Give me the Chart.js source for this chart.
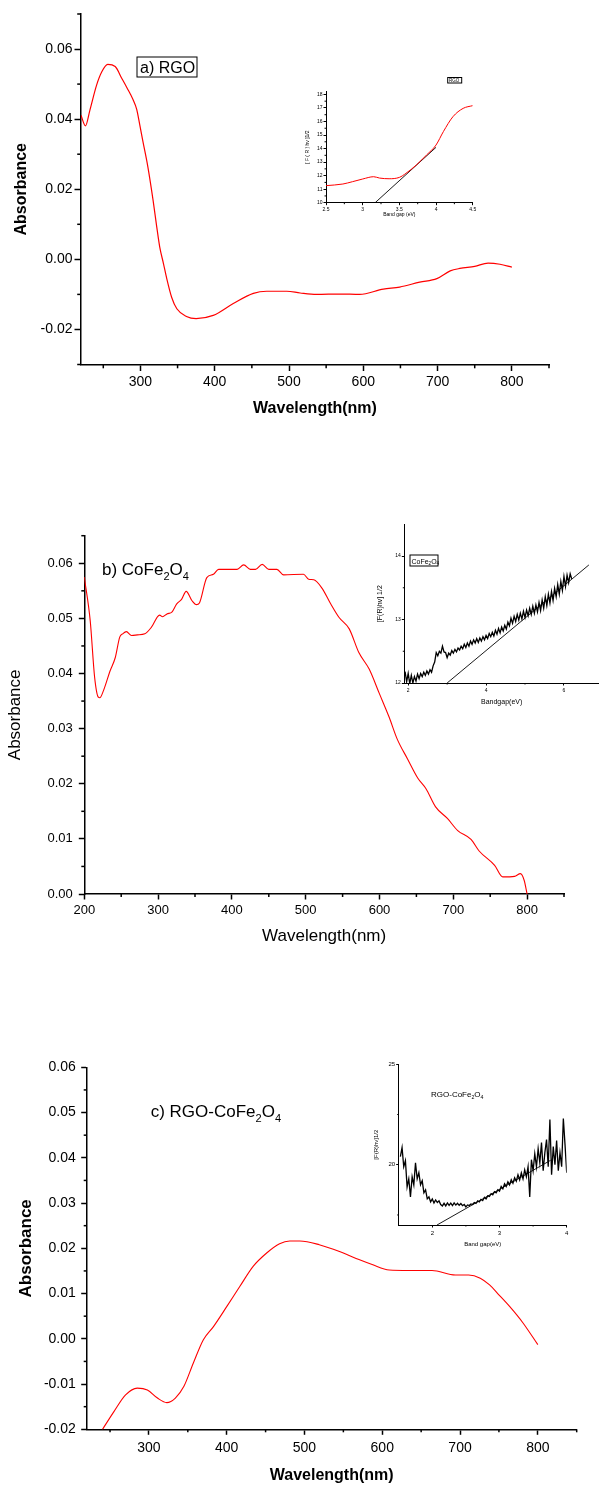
<!DOCTYPE html>
<html><head><meta charset="utf-8">
<script src="https://cdn.jsdelivr.net/npm/chart.js@4.4.1/dist/chart.umd.min.js"></script>
<style>
html,body{margin:0;padding:0;background:#fff;}
body{position:relative;width:599px;height:1486px;overflow:hidden;}
canvas{position:absolute;}
</style>
</head><body>
<script>
// ---------------- DATA ----------------
// Panel a) RGO : absorbance vs wavelength
const wavelengthA = [220,226,232,241,248,256,266,275,282,290,295,299,303,310,317,322,326,331,335,342,349,362,375,398,425,452,470,497,515,537,569,595,627,649,676,699,717,730,750,768,784,800];
const absorbanceA = [0.0411,0.0381,0.0426,0.0497,0.0535,0.0556,0.0550,0.0516,0.0489,0.0456,0.0428,0.0385,0.0340,0.0264,0.0169,0.0092,0.0035,-0.0012,-0.0051,-0.0108,-0.0141,-0.0163,-0.0169,-0.0160,-0.0126,-0.0097,-0.0091,-0.0091,-0.0096,-0.0100,-0.0099,-0.0100,-0.0085,-0.0079,-0.0065,-0.0055,-0.0033,-0.0026,-0.0020,-0.0011,-0.0014,-0.0022];
const xTicksA = [300,400,500,600,700,800];
const xTickLabelsA = ['300','400','500','600','700','800'];
const xMinorA = [250,350,450,550,650,750,850];
const yTicksA = [-0.02,0.00,0.02,0.04,0.06];
const yTickLabelsA = ['-0.02','0.00','0.02','0.04','0.06'];
const yMinorA = [-0.03,-0.01,0.01,0.03,0.05,0.07];

// Inset a) band gap of RGO
const insetA_eV = [2.5,2.73,2.86,3.0,3.15,3.23,3.36,3.5,3.59,3.73,3.87,4.0,4.1,4.23,4.37,4.5];
const insetA_F  = [11.26,11.38,11.55,11.75,11.92,11.82,11.77,11.87,12.17,12.78,13.52,14.26,15.25,16.35,16.97,17.17];
const insetA_fitEV = [3.17,4.0];
const insetA_fitF  = [10.0,14.09];
const insetA_xTicks = [2.5,3,3.5,4,4.5];
const insetA_xLabels = ['2.5','3','3.5','4','4.5'];
const insetA_yTicks = [10,11,12,13,14,15,16,17,18];
const insetA_yLabels = ['10','11','12','13','14','15','16','17','18'];

// Panel b) CoFe2O4
const wavelengthB = [200,208,214,219,221,226,235,242,248,252,257,264,272,282,291,302,306,312,319,325,332,338,346,352,356,366,375,382,407,416,425,432,441,450,461,470,497,504,511,522,534,545,559,572,586,600,613,624,638,652,663,676,692,706,724,735,756,767,783,791,796,800];
const absorbanceB = [0.0575,0.0496,0.0393,0.0357,0.0356,0.0369,0.0405,0.0429,0.0466,0.0472,0.0476,0.0469,0.0470,0.0472,0.0484,0.0506,0.0503,0.0508,0.0512,0.0526,0.0535,0.0549,0.0532,0.0525,0.0528,0.0574,0.0580,0.0589,0.0589,0.0597,0.0589,0.0589,0.0598,0.0589,0.0589,0.0579,0.0580,0.0571,0.0570,0.0555,0.0526,0.0502,0.0481,0.0438,0.0408,0.0363,0.0321,0.0281,0.0245,0.0210,0.0191,0.0158,0.0137,0.0115,0.0099,0.0078,0.0052,0.0031,0.0032,0.0037,0.0025,0.0000];
const xTicksB = [200,300,400,500,600,700,800];
const xTickLabelsB = ['200','300','400','500','600','700','800'];
const xMinorB = [250,350,450,550,650,750,850];
const yTicksB = [0,0.01,0.02,0.03,0.04,0.05,0.06];
const yTickLabelsB = ['0.00','0.01','0.02','0.03','0.04','0.05','0.06'];
const yMinorB = [0.005,0.015,0.025,0.035,0.045,0.055,0.065];

// Inset b) band gap of CoFe2O4
const insetB_eV = [1.92,1.96,2.00,2.04,2.08,2.12,2.16,2.20,2.24,2.28,2.32,2.36,2.40,2.44,2.48,2.52,2.56,2.60,2.64,2.68,2.72,2.76,2.80,2.84,2.88,2.92,2.96,3.00,3.04,3.08,3.12,3.16,3.20,3.24,3.28,3.32,3.36,3.40,3.44,3.48,3.52,3.56,3.60,3.64,3.68,3.72,3.76,3.80,3.84,3.88,3.92,3.96,4.00,4.04,4.08,4.12,4.16,4.20,4.24,4.28,4.32,4.36,4.40,4.44,4.48,4.52,4.56,4.60,4.64,4.68,4.72,4.76,4.80,4.84,4.88,4.92,4.96,5.00,5.04,5.08,5.12,5.16,5.20,5.24,5.28,5.32,5.36,5.40,5.44,5.48,5.52,5.56,5.60,5.64,5.68,5.72,5.76,5.80,5.84,5.88,5.92,5.96,6.00,6.04,6.08,6.12,6.16,6.20];
const insetB_F = [12.18,12.02,12.15,11.99,12.12,12.00,12.10,12.03,12.14,12.07,
  12.15,12.10,12.17,12.12,12.19,12.14,12.21,12.17,12.27,12.33,
  12.48,12.43,12.50,12.47,12.58,12.49,12.48,12.40,12.47,12.44,
  12.51,12.47,12.53,12.49,12.55,12.52,12.58,12.54,12.61,12.56,
  12.63,12.58,12.66,12.61,12.68,12.63,12.70,12.64,12.71,12.66,
  12.73,12.68,12.75,12.70,12.78,12.73,12.80,12.74,12.83,12.77,
  12.86,12.79,12.88,12.82,12.91,12.85,12.96,12.90,13.02,12.94,
  13.05,12.97,13.08,12.99,13.10,13.01,13.13,13.03,13.15,13.06,
  13.18,13.08,13.21,13.10,13.23,13.12,13.27,13.14,13.31,13.18,
  13.36,13.22,13.40,13.26,13.44,13.30,13.49,13.36,13.55,13.40,
  13.60,13.46,13.68,13.52,13.70,13.58,13.72,13.64];
const insetB_fitEV = [3.0,6.64];
const insetB_fitF  = [12.0,13.86];
const insetB_xTicks = [2,4,6];
const insetB_xLabels = ['2','4','6'];
const insetB_yTicks = [12,13,14];
const insetB_yLabels = ['12','13','14'];

// Panel c) RGO-CoFe2O4
const wavelengthC = [240,255,270,285,298,311,323,334,345,357,370,383,400,417,434,451,468,481,494,519,545,570,587,609,634,664,694,711,726,738,749,764,781,800];
const absorbanceC = [-0.0201,-0.0161,-0.0124,-0.0109,-0.0113,-0.0131,-0.0141,-0.0131,-0.0105,-0.0054,-0.0002,0.0027,0.0071,0.0116,0.0160,0.0189,0.0210,0.0216,0.0216,0.0208,0.0193,0.0175,0.0164,0.0152,0.0151,0.0151,0.0141,0.0141,0.0134,0.0119,0.0099,0.0071,0.0035,-0.0013];
const xTicksC = [300,400,500,600,700,800];
const xTickLabelsC = ['300','400','500','600','700','800'];
const xMinorC = [250,350,450,550,650,750,850];
const yTicksC = [-0.02,-0.01,0,0.01,0.02,0.03,0.04,0.05,0.06];
const yTickLabelsC = ['-0.02','-0.01','0.00','0.01','0.02','0.03','0.04','0.05','0.06'];
const yMinorC = [-0.015,-0.005,0.005,0.015,0.025,0.035,0.045,0.055];

// Inset c) band gap of RGO-CoFe2O4
const insetC_eV = [1.525,1.55,1.575,1.6,1.625,1.65,1.675,1.7,1.725,1.75,1.775,1.8,1.825,1.85,1.875,1.9,1.925,1.95,1.975,2.0,2.025,2.05,2.075,2.1,2.125,2.15,2.175,2.2,2.225,2.25,2.275,2.3,2.325,2.35,2.375,2.4,2.425,2.45,2.475,2.5,2.525,2.55,2.575,2.6,2.625,2.65,2.675,2.7,2.725,2.75,2.775,2.8,2.825,2.85,2.875,2.9,2.925,2.95,2.975,3.0,3.025,3.05,3.075,3.1,3.125,3.15,3.175,3.2,3.225,3.25,3.275,3.3,3.325,3.35,3.375,3.4,3.425,3.45,3.475,3.5,3.525,3.55,3.575,3.6,3.625,3.65,3.675,3.7,3.725,3.75,3.775,3.8,3.825,3.85,3.875,3.9,3.925,3.95,3.975,4.0];
const insetC_F = [20.40,20.85,19.90,20.20,18.90,19.30,18.40,19.40,19.00,20.10,
  19.30,19.60,19.00,19.20,18.60,18.75,18.30,18.40,18.15,18.30,
  18.10,18.25,18.12,18.20,18.02,17.95,18.08,17.95,18.10,17.98,
  18.09,17.97,18.10,17.99,18.08,17.98,18.07,17.96,18.02,17.90,
  18.00,17.97,18.05,18.02,18.12,18.08,18.20,18.15,18.27,18.22,
  18.38,18.30,18.45,18.42,18.56,18.50,18.66,18.60,18.75,18.68,
  18.92,18.80,19.05,18.92,19.15,19.00,19.25,19.08,19.35,19.18,
  19.50,19.25,19.60,19.30,19.75,19.40,19.90,18.40,20.25,19.70,
  20.55,19.90,20.80,20.10,21.10,19.70,20.60,21.25,19.90,22.25,
  19.50,20.90,20.00,21.20,19.70,20.60,19.90,22.30,21.00,19.60];
const insetC_fitEV = [2.07,3.76];
const insetC_fitF  = [17.0,20.22];
const insetC_xTicks = [2,3,4];
const insetC_xLabels = ['2','3','4'];
const insetC_yTicks = [20,25];
const insetC_yLabels = ['20','25'];

// ---------------- RENDERING ----------------
const FONT = "'Liberation Sans', Arial, Helvetica, sans-serif";
Chart.defaults.font.family = FONT;
Chart.defaults.color = '#000';

const minorTicks = {
  id: 'minorTicks',
  afterDraw(chart, args, o) {
    if (!o || !o.len) return;
    const ctx = chart.ctx, xs = chart.scales.x, ys = chart.scales.y;
    ctx.save();
    ctx.strokeStyle = '#000';
    ctx.lineWidth = o.width || 1;
    (o.x || []).forEach(v => {
      const p = xs.getPixelForValue(v);
      ctx.beginPath(); ctx.moveTo(p, xs.top); ctx.lineTo(p, xs.top + o.len); ctx.stroke();
    });
    (o.y || []).forEach(v => {
      const p = ys.getPixelForValue(v);
      ctx.beginPath(); ctx.moveTo(ys.right, p); ctx.lineTo(ys.right - o.len, p); ctx.stroke();
    });
    ctx.restore();
  }
};

const richText = {
  id: 'richText',
  afterDraw(chart, args, o) {
    if (!o || !o.items) return;
    const ctx = chart.ctx;
    o.items.forEach(it => {
      ctx.save();
      ctx.fillStyle = it.color || '#000';
      ctx.textBaseline = 'alphabetic';
      ctx.textAlign = 'left';
      let x = it.x;
      it.parts.forEach(p => {
        if (typeof p === 'string') {
          ctx.font = `${it.weight || 'normal'} ${it.size}px ${FONT}`;
          ctx.fillText(p, x, it.y);
          x += ctx.measureText(p).width;
        } else {
          const s = it.size * 0.65;
          ctx.font = `${it.weight || 'normal'} ${s}px ${FONT}`;
          ctx.fillText(p.sub, x, it.y + it.size * 0.28);
          x += ctx.measureText(p.sub).width;
        }
      });
      if (it.box) {
        ctx.strokeStyle = '#000';
        ctx.lineWidth = it.box.lw || 1;
        ctx.strokeRect(it.box.x, it.box.y, it.box.w, it.box.h);
      }
      ctx.restore();
    });
  }
};
Chart.register(minorTicks, richText);

function makeChart(o) {
  const cv = document.createElement('canvas');
  cv.width = o.box.w; cv.height = o.box.h;
  cv.style.left = o.box.x + 'px'; cv.style.top = o.box.y + 'px';
  document.body.appendChild(cv);
  const yW = o.area.x0 - o.box.x;
  const xH = o.box.y + o.box.h - o.area.y1;
  const axis = (a, isX) => ({
    type: 'linear', min: a.min, max: a.max,
    border: {display: true, color: '#000', width: o.axisWidth},
    grid: {display: true, drawOnChartArea: false, drawTicks: true, tickLength: o.tickLen,
           color: '#000', tickColor: '#000', tickWidth: o.axisWidth},
    ticks: {autoSkip: false, maxRotation: 0, minRotation: 0, includeBounds: false,
            padding: a.pad, color: '#000', font: {family: FONT, size: o.tickSize},
            callback: (v, i) => a.labels[i]},
    afterBuildTicks: s => { s.ticks = a.major.map(v => ({value: v})); },
    afterFit: s => { if (isX) s.height = xH; else s.width = yW; },
    title: {display: true, text: a.title, color: '#000',
            font: {family: FONT, size: a.titleSize, weight: a.titleWeight || 'normal'},
            padding: isX ? {top: 0, bottom: a.titlePad} : {top: a.titlePad, bottom: 0}}
  });
  const items = (o.texts || []).map(t => ({
    x: t.px - o.box.x, y: t.py - o.box.y, size: t.size, weight: t.weight, parts: t.parts,
    box: t.box ? {x: t.box.px - o.box.x, y: t.box.py - o.box.y, w: t.box.w, h: t.box.h, lw: t.box.lw} : null
  }));
  new Chart(cv, {
    type: 'line',
    data: {
      datasets: o.series.map(s => ({
        data: s.xs.map((x, i) => ({x: x, y: s.ys[i]})),
        borderColor: s.color, borderWidth: s.width, pointRadius: 0, fill: false,
        tension: s.smooth ? 0.4 : 0,
        cubicInterpolationMode: s.smooth ? 'monotone' : 'default'
      }))
    },
    options: {
      responsive: false, animation: false, devicePixelRatio: 1, events: [],
      layout: {autoPadding: false, padding: {left: 0, bottom: 0,
        top: o.area.y0 - o.box.y, right: o.box.x + o.box.w - o.area.x1}},
      plugins: {
        legend: {display: false}, tooltip: {enabled: false},
        minorTicks: {x: o.x.minor, y: o.y.minor, len: o.minorLen, width: o.axisWidth},
        richText: {items: items}
      },
      scales: {x: axis(o.x, true), y: axis(o.y, false)}
    }
  });
}

const RED = '#ff0000';

// Panel a
makeChart({
  box: {x: 0, y: 0, w: 599, h: 430},
  area: {x0: 81, y0: 14, x1: 549, y1: 364.5},
  axisWidth: 1.5, tickLen: 6.5, minorLen: 3.8, tickSize: 14,
  x: {min: 220, max: 850, major: xTicksA, labels: xTickLabelsA, minor: xMinorA, pad: 3,
      title: 'Wavelength(nm)', titleSize: 16, titleWeight: 'bold', titlePad: 12},
  y: {min: -0.03, max: 0.07, major: yTicksA, labels: yTickLabelsA, minor: yMinorA, pad: 2,
      title: 'Absorbance', titleSize: 16, titleWeight: 'bold', titlePad: 12.4},
  series: [{xs: wavelengthA, ys: absorbanceA, color: RED, width: 1.2, smooth: true}],
  texts: [{px: 140, py: 73, size: 16, parts: ['a) RGO'], box: {px: 137, py: 57, w: 60, h: 20}}]
});

// Inset a
makeChart({
  box: {x: 296, y: 70, w: 194, h: 152},
  area: {x0: 326, y0: 91.7, x1: 472.7, y1: 202.7},
  axisWidth: 1, tickLen: 2.5, minorLen: 1.5, tickSize: 5,
  x: {min: 2.5, max: 4.5, major: insetA_xTicks, labels: insetA_xLabels, minor: [2.75,3.25,3.75,4.25], pad: 1,
      title: 'Band gap (eV)', titleSize: 5, titlePad: 4.5},
  y: {min: 10, max: 18.2, major: insetA_yTicks, labels: insetA_yLabels, minor: [10.5,11.5,12.5,13.5,14.5,15.5,16.5,17.5], pad: 1,
      title: '[ F ( R ) hv ]1/2', titleSize: 5, titlePad: 9},
  series: [
    {xs: insetA_eV, ys: insetA_F, color: RED, width: 1, smooth: true},
    {xs: insetA_fitEV, ys: insetA_fitF, color: '#000', width: 0.9}
  ],
  texts: [{px: 449, py: 82.2, size: 4.5, parts: ['RGO'], box: {px: 447.7, py: 77.5, w: 14, h: 5.5}}]
});

// Panel b
makeChart({
  box: {x: 0, y: 480, w: 599, h: 480},
  area: {x0: 84.3, y0: 535.7, x1: 564, y1: 894},
  axisWidth: 1.5, tickLen: 5.5, minorLen: 3, tickSize: 13,
  x: {min: 200, max: 850, major: xTicksB, labels: xTickLabelsB, minor: xMinorB, pad: 3,
      title: 'Wavelength(nm)', titleSize: 17, titlePad: 13.8},
  y: {min: 0, max: 0.065, major: yTicksB, labels: yTickLabelsB, minor: yMinorB, pad: 6,
      title: 'Absorbance', titleSize: 17, titlePad: 4.8},
  series: [{xs: wavelengthB, ys: absorbanceB, color: RED, width: 1.1, smooth: true}],
  texts: [{px: 102, py: 575, size: 17, parts: ['b) CoFe', {sub: '2'}, 'O', {sub: '4'}]}]
});

// Inset b
makeChart({
  box: {x: 370, y: 505, w: 229, h: 210},
  area: {x0: 404.3, y0: 524.3, x1: 599, y1: 683},
  axisWidth: 1, tickLen: 2.5, minorLen: 1.5, tickSize: 5,
  x: {min: 1.9, max: 6.9, major: insetB_xTicks, labels: insetB_xLabels, minor: [3,5], pad: 2,
      title: 'Bandgap(eV)', titleSize: 7, titlePad: 8.3},
  y: {min: 12, max: 14.5, major: insetB_yTicks, labels: insetB_yLabels, minor: [12.5,13.5], pad: 1,
      title: '[F(R)hv] 1/2', titleSize: 7, titlePad: 5.8},
  series: [
    {xs: insetB_eV, ys: insetB_F, color: '#000', width: 1.3},
    {xs: insetB_fitEV, ys: insetB_fitF, color: '#000', width: 0.9}
  ],
  texts: [{px: 411.5, py: 563.5, size: 7, parts: ['CoFe', {sub: '2'}, 'O', {sub: '4'}], box: {px: 410, py: 555, w: 28, h: 11}}]
});

// Panel c
makeChart({
  box: {x: 0, y: 1040, w: 599, h: 446},
  area: {x0: 86.7, y0: 1067.3, x1: 576.7, y1: 1429.3},
  axisWidth: 1.5, tickLen: 5.5, minorLen: 3, tickSize: 14,
  x: {min: 220, max: 850, major: xTicksC, labels: xTickLabelsC, minor: xMinorC, pad: 5,
      title: 'Wavelength(nm)', titleSize: 16, titleWeight: 'bold', titlePad: 0.8},
  y: {min: -0.02, max: 0.06, major: yTicksC, labels: yTickLabelsC, minor: yMinorC, pad: 5.4,
      title: 'Absorbance', titleSize: 17, titleWeight: 'bold', titlePad: 16.5},
  series: [{xs: wavelengthC, ys: absorbanceC, color: RED, width: 1.1, smooth: true}],
  texts: [{px: 150.7, py: 1117, size: 17, parts: ['c) RGO-CoFe', {sub: '2'}, 'O', {sub: '4'}]}]
});

// Inset c
makeChart({
  box: {x: 360, y: 1050, w: 230, h: 205},
  area: {x0: 398.7, y0: 1064.3, x1: 566.7, y1: 1225},
  axisWidth: 1, tickLen: 2.5, minorLen: 1.5, tickSize: 6,
  x: {min: 1.5, max: 4, major: insetC_xTicks, labels: insetC_xLabels, minor: [2.5,3.5], pad: 2,
      title: 'Band gap(eV)', titleSize: 6, titlePad: 7.4},
  y: {min: 17, max: 25, major: insetC_yTicks, labels: insetC_yLabels, minor: [17.5,22.5], pad: 1,
      title: '[F(R)hv]1/2', titleSize: 6, titlePad: 12.9},
  series: [
    {xs: insetC_eV, ys: insetC_F, color: '#000', width: 1.3},
    {xs: insetC_fitEV, ys: insetC_fitF, color: '#000', width: 0.9}
  ],
  texts: [{px: 431, py: 1097, size: 8, parts: ['RGO-CoFe', {sub: '2'}, 'O', {sub: '4'}]}]
});
</script>
</body></html>
